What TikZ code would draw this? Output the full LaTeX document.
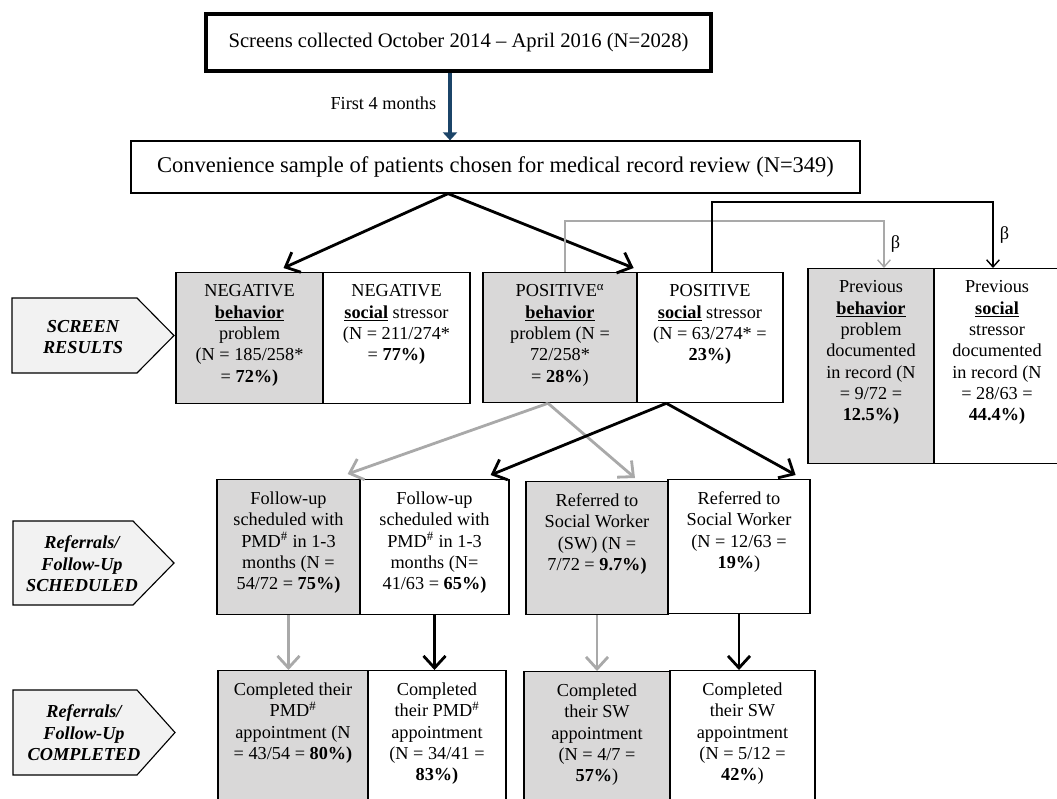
\documentclass[tikz,border=0pt]{standalone}
\usepackage{fontspec}
\setmainfont{Liberation Serif}
\usepackage{xcolor}
\usepackage{tikz}
\usetikzlibrary{arrows.meta,positioning,calc}
\definecolor{cellgray}{HTML}{D9D8D8}
\definecolor{tagfill}{HTML}{F2F2F2}
\definecolor{lightline}{HTML}{A9A9A9}
\definecolor{navy}{HTML}{1B4468}
\newlength\pxu
\setlength\pxu{0.025cm}
\newcommand\celltext[3]{\begin{minipage}[c][#2\pxu][t]{\dimexpr#1\pxu-6pt\relax}\centering\vspace*{8.5pt}#3\end{minipage}}
\newcommand\ub[1]{\underline{\textbf{#1}}}

\begin{document}
\begin{tikzpicture}[
  x=0.025cm,y=-0.025cm,
  font=\fontsize{13}{15.2}\selectfont,
  cell/.style={draw,line width=0.9pt,anchor=north,inner xsep=3pt,inner ysep=0pt},
  shade/.style={cell,fill=cellgray},
  tagshape/.style={draw,line width=0.8pt,fill=tagfill},
  tagtext/.style={align=center,inner sep=0pt,font=\fontsize{13}{15.2}\selectfont\bfseries\itshape},
  arr/.style={-{Straight Barb[length=3mm,width=5.5mm]},line width=2pt},
  arrl/.style={arr,draw=lightline},
  thinarr/.style={-{Straight Barb[length=1.8mm,width=3.2mm]},line width=1pt},
  bluearr/.style={-{Triangle[length=2mm,width=3.5mm]},draw=navy,line width=3pt}
]
\useasboundingbox (0,0) rectangle (1057,798);
\clip (0,0) rectangle (1057,798);

\node[draw,line width=3.5pt,minimum width=505\pxu,minimum height=57\pxu,inner sep=0pt,
      font=\fontsize{14.7}{17}\selectfont] (top) at (458.5,42.5)
      {Screens collected October 2014 -- April 2016 (N=2028)};
\node[draw,line width=0.9pt,minimum width=729\pxu,minimum height=52\pxu,inner sep=0pt,
      font=\fontsize{16}{18}\selectfont] (conv) at (495.5,167)
      {Convenience sample of patients chosen for medical record review (N=349)};

\path[tagshape] (12,298) -- (137,298) -- (174,335.5) -- (137,373) -- (12,373) -- cycle;
\path[tagshape] (13,521) -- (133,521) -- (174,563) -- (133,605) -- (13,605) -- cycle;
\path[tagshape] (13,690) -- (137,690) -- (175,732.5) -- (137,775) -- (13,775) -- cycle;
\node[tagtext] (lscr) at (83,337) {SCREEN\\RESULTS};
\node[tagtext] (lref) at (82,564) {Referrals/\\Follow-Up\\SCHEDULED};
\node[tagtext] (lcmp) at (84,733) {Referrals/\\Follow-Up\\COMPLETED};

\node[shade] (negb) at (249.5,272) {\celltext{147}{131}{NEGATIVE\\ \ub{behavior}\\ problem\\ (N = 185/258*\\ = \textbf{72\%)}}};
\node[cell] (negs) at (396.5,272) {\celltext{147}{131}{NEGATIVE\\ \ub{social} stressor\\ (N = 211/274*\\ = \textbf{77\%)}}};
\node[shade] (posb) at (560,272) {\celltext{154}{130}{POSITIVE\textsuperscript{α}\\ \ub{behavior}\\ problem (N =\\ 72/258*\\ = \textbf{28\%})}};
\node[cell] (poss) at (710,272) {\celltext{146}{130}{POSITIVE\\ \ub{social} stressor\\ (N = 63/274* =\\ \textbf{23\%)}}};
\node[shade] (prevb) at (871,268) {\celltext{126}{195}{Previous\\ \ub{behavior}\\ problem\\ documented\\ in record (N\\ = 9/72 =\\ \textbf{12.5\%)}}};
\node[cell] (prevs) at (997,268) {\celltext{126}{195}{Previous\\ \ub{social}\\ stressor\\ documented\\ in record (N\\ = 28/63 =\\ \textbf{44.4\%)}}};

\node[shade] (fub) at (288.5,479) {\celltext{143}{135}{Follow-up\\ scheduled with\\ PMD\textsuperscript{\#} in 1-3\\ months (N =\\ 54/72 = \textbf{75\%)}}};
\node[cell] (fus) at (434.5,479) {\celltext{149}{135}{Follow-up\\ scheduled with\\ PMD\textsuperscript{\#} in 1-3\\ months (N=\\ 41/63 = \textbf{65\%)}}};
\node[shade] (swb) at (597,481) {\celltext{142}{133}{Referred to\\ Social Worker\\ (SW) (N =\\ 7/72 = \textbf{9.7\%)}}};
\node[cell] (sws) at (739,479) {\celltext{142}{134}{Referred to\\ Social Worker\\ (N = 12/63 =\\ \textbf{19\%})}};

\node[shade] (cpb) at (293,670) {\celltext{150}{140}{Completed their\\ PMD\textsuperscript{\#}\\ appointment (N\\ = 43/54 = \textbf{80\%)}}};
\node[cell] (cps) at (437,670) {\celltext{138}{140}{Completed\\ their PMD\textsuperscript{\#}\\ appointment\\ (N = 34/41 =\\ \textbf{83\%)}}};
\node[shade] (cwb) at (597,671) {\celltext{146}{140}{Completed\\ their SW\\ appointment\\ (N = 4/7 =\\ \textbf{57\%})}};
\node[cell] (cws) at (742.5,670) {\celltext{145}{140}{Completed\\ their SW\\ appointment\\ (N = 5/12 =\\ \textbf{42\%})}};

\draw[bluearr] ([xshift=-8.5\pxu]top.south) -- ([xshift=-8.5\pxu]top.south |- conv.north)
      node[pos=0.45,left=5pt,text=black]{First 4 months};

\draw[arr] ($(conv.south west)!0.435!(conv.south east)$) -- ($(negb.north)+(34,-4)$);
\draw[arr] ($(conv.south west)!0.435!(conv.south east)$) -- ($(posb.north east)+(-4,-4)$);

\draw[thinarr,draw=lightline] ($(posb.north)+(5,0)$) -- ++(0,-51) -| ($(prevb.north)+(13,0)$)
      node[pos=0.75,right=1pt,text=black]{β};
\draw[thinarr] ($(poss.north)+(2,0)$) -- ++(0,-70) -| ($(prevs.north)+(-4,0)$)
      node[pos=0.75,right=1pt]{β};

\draw[arrl] ($(posb.south)+(-12,0)$) -- ($(fub.north east)+(-13,-5)$);
\draw[arrl] ($(posb.south)+(-12,0)$) -- ($(swb.north)+(38,-3)$);
\draw[arr] ($(poss.south west)+(30,0)$) -- ($(fus.north east)+(-19,-4)$);
\draw[arr] ($(poss.south west)+(30,0)$) -- ($(sws.north east)+(-15,-4)$);

\draw[arrl] (fub.south) -- (fub.south |- cpb.north);
\draw[arr] (fus.south) -- (fus.south |- cps.north);
\draw[arrl] (swb.south) -- (swb.south |- cwb.north);
\draw[arr] (sws.south) -- (sws.south |- cws.north);
\end{tikzpicture}
\end{document}
